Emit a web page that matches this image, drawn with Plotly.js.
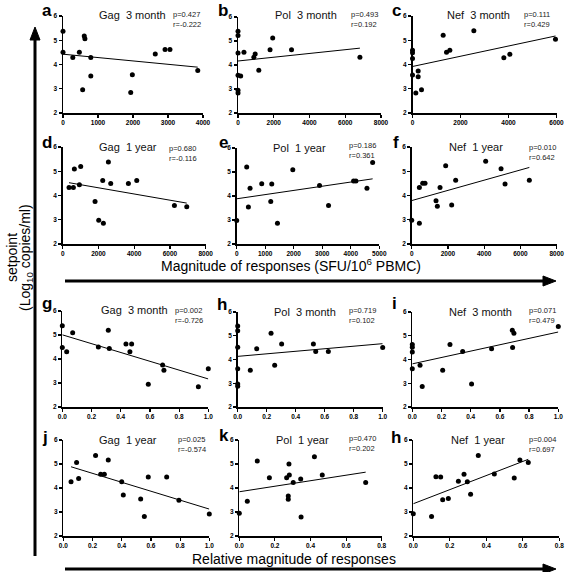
<!DOCTYPE html>
<html><head><meta charset="utf-8">
<script src="https://cdn.plot.ly/plotly-3.0.1.min.js"></script>
<style>html,body{margin:0;padding:0;background:#fff}</style>
</head><body><div id="chart" style="width:565px;height:572px"></div>
<script>
// ---------- data ----------
const gagM3AbsX = [0,0,280,467,607,626,794,794,561,1935,1981,2636,2916,3056,3850];
const gagM3AbsY = [5.37,4.50,4.29,4.50,5.18,5.06,4.29,3.53,2.96,2.85,3.58,4.43,4.62,4.62,3.75];
const polM3AbsX = [0,0,0,0,0,0,150,333,887,961,1164,1793,1941,2994,6820];
const polM3AbsY = [5.41,5.23,4.50,3.57,2.95,2.83,3.54,4.53,4.32,4.46,3.78,4.64,5.12,4.64,4.32];
const nefM3AbsX = [0,0,0,0,236,236,139,375,1278,1417,1556,2556,3806,4056,5958];
const nefM3AbsY = [4.59,4.48,4.25,3.57,3.73,3.49,2.82,2.96,5.21,4.51,4.59,5.39,4.28,4.42,5.04];
const gagY1AbsX = [354,597,653,933,1007,1810,2015,2276,2239,2556,2687,3675,4142,6250,6940];
const gagY1AbsY = [4.33,4.33,5.09,4.44,5.20,3.75,2.98,2.86,4.62,5.38,4.50,4.50,4.62,3.59,3.54];
const polY1AbsX = [0,351,410,468,878,1194,1230,1429,1967,2904,3220,4098,4180,4567,4766];
const polY1AbsY = [2.98,5.21,3.54,4.32,4.51,3.77,4.50,2.86,5.09,4.44,3.60,4.62,4.62,4.32,5.40];
const nefY1AbsX = [0,423,423,607,735,1342,1415,1563,1875,2206,2426,4081,4930,5150,6490];
const nefY1AbsY = [2.98,2.86,4.33,4.51,4.51,3.78,3.56,4.33,5.23,3.61,4.63,5.41,5.10,4.47,4.63];
const gagM3RelX = [0,0,0.03,0.071,0.247,0.315,0.322,0.436,0.475,0.463,0.589,0.687,0.696,0.932,1.0];
const gagM3RelY = [5.39,4.48,4.30,5.09,4.50,5.20,4.44,4.62,4.62,4.30,2.95,3.75,3.53,2.84,3.59];
const polM3RelX = [0,0,0,0,0,0,0.087,0.131,0.230,0.255,0.303,0.522,0.538,0.625,1.0];
const polM3RelY = [5.41,5.21,4.52,3.61,2.97,2.87,3.55,4.45,5.11,3.76,4.65,4.65,4.34,4.34,4.51];
const nefM3RelX = [0,0,0,0,0.053,0.068,0.208,0.258,0.345,0.406,0.543,0.687,0.685,0.696,1.0];
const nefM3RelY = [4.63,4.52,4.32,3.61,3.76,2.86,3.55,4.63,4.34,2.97,4.45,4.51,5.23,5.11,5.39];
const gagY1RelX = [0.053,0.091,0.105,0.221,0.256,0.281,0.308,0.400,0.411,0.530,0.555,0.582,0.708,0.792,1.0];
const gagY1RelY = [4.26,5.06,4.40,5.35,4.57,4.57,5.17,4.26,3.71,3.54,2.81,4.46,4.46,3.49,2.92];
const polY1RelX = [0,0.045,0.101,0.169,0.266,0.279,0.281,0.275,0.275,0.303,0.345,0.347,0.422,0.466,0.710];
const polY1RelY = [2.95,3.45,5.12,4.43,4.43,5.00,4.54,3.67,3.53,4.23,4.37,2.79,5.30,4.54,4.23];
const nefY1RelX = [0,0.100,0.124,0.150,0.161,0.192,0.247,0.278,0.296,0.314,0.356,0.444,0.553,0.584,0.630];
const nefY1RelY = [2.93,2.81,4.47,4.46,3.51,3.56,4.28,4.57,4.26,3.74,5.35,4.58,4.42,5.17,5.06];

const panelTitles = ['Gag  3 month','Pol  3 month','Nef  3 month','Gag  1 year','Pol  1 year','Nef  1 year',
                     'Gag  3 month','Pol  3 month','Nef  3 month','Gag  1 year','Pol  1 year','Nef  1 year'];
const panelLetters = ['a','b','c','d','e','f','g','h','i','j','k','h'];
const pValues = ['0.427','0.493','0.111','0.680','0.186','0.010','0.002','0.719','0.071','0.025','0.470','0.004'];
const rValues = ['-0.222','0.192','0.429','-0.116','0.361','0.642','-0.726','0.102','0.479','-0.574','0.202','0.697'];

const ticks4000 = [0,1000,2000,3000,4000];
const ticks8000 = [0,2000,4000,6000,8000];
const ticks6000 = [0,2000,4000,6000];
const ticks5000 = [0,1000,2000,3000,4000,5000];
const ticksRel10 = [0,0.2,0.4,0.6,0.8,1.0];
const ticksRel08 = [0,0.2,0.4,0.6,0.8];
const yTicks = [2,3,4,5,6];

const absTitle = 'Magnitude of responses (SFU/10<sup>6</sup> PBMC)';
const relTitle = 'Relative magnitude of responses';
const yTitle1 = 'setpoint';
const yTitle2 = '(Log<sub>10</sub> copies/ml)';

// ---------- layout helpers ----------
const W = 565, H = 572;
const FONT = 'Liberation Sans, Arial, sans-serif';
const fx = p => p / W;
const fy = p => 1 - p / H;

const series = [
  [gagM3AbsX,gagM3AbsY],[polM3AbsX,polM3AbsY],[nefM3AbsX,nefM3AbsY],
  [gagY1AbsX,gagY1AbsY],[polY1AbsX,polY1AbsY],[nefY1AbsX,nefY1AbsY],
  [gagM3RelX,gagM3RelY],[polM3RelX,polM3RelY],[nefM3RelX,nefM3RelY],
  [gagY1RelX,gagY1RelY],[polY1RelX,polY1RelY],[nefY1RelX,nefY1RelY]
];
const xTicksPer = [ticks4000,ticks8000,ticks6000,ticks8000,ticks5000,ticks8000,
                   ticksRel10,ticksRel10,ticksRel10,ticksRel10,ticksRel08,ticksRel08];
// plot boxes in pixels: left, right, top(y=6), bottom(y=2)
const boxes = [
  [63,203,16,113],[238,381,17,113],[412.5,556.5,16,113],
  [62.7,205.7,147,244],[236.7,379.3,148,244],[411.7,556.7,147,244],
  [62.3,208.3,311,407],[237.7,382.7,312,407],[412.3,558.3,312,407],
  [63.3,209.3,440,536],[239.3,381.7,440,536],[413.3,559.3,440,536]
];
const titlePos = [[132,15],[306,15],[478,15],[128,147],[299,148],[476,147],
                  [134,310],[305,312],[480,312],[128,440],[302,440],[478,440]];
const statPos = [[171,19],[349,19],[522,19],[167,153],[347,151],[527,152],
                 [173,316],[347,316],[527,315],[176,444],[347,443],[527,444]];
const letterPos = [[47,10],[223,10],[396,10],[47,142],[223,142],[396,142],
                   [47,303],[222,304],[394,303],[45,437],[224,436],[396,437]];

function linfit(x, y) {
  const n = x.length;
  let sx=0, sy=0, sxx=0, sxy=0;
  for (let i=0;i<n;i++){ sx+=x[i]; sy+=y[i]; sxx+=x[i]*x[i]; sxy+=x[i]*y[i]; }
  const b = (n*sxy - sx*sy)/(n*sxx - sx*sx);
  const a = (sy - b*sx)/n;
  return [a,b];
}

const traces = [];
const layout = {
  width: W, height: H,
  margin: {l:0,r:0,t:0,b:0},
  paper_bgcolor: '#fff', plot_bgcolor: 'rgba(0,0,0,0)',
  showlegend: false,
  font: {family: FONT, color: '#000'},
  annotations: [], shapes: []
};

series.forEach((s, i) => {
  const k = i === 0 ? '' : String(i+1);
  const xa = 'x' + k, ya = 'y' + k;
  traces.push({
    x: s[0], y: s[1], xaxis: xa, yaxis: ya, type: 'scatter', mode: 'markers',
    marker: {color: '#000', size: 5}, cliponaxis: false, hoverinfo: 'skip'
  });
  const [a, b] = linfit(s[0], s[1]);
  const xmin = Math.min(...s[0]), xmax = Math.max(...s[0]);
  traces.push({
    x: [xmin, xmax], y: [a + b*xmin, a + b*xmax], xaxis: xa, yaxis: ya,
    type: 'scatter', mode: 'lines', line: {color: '#000', width: 1}, cliponaxis: false, hoverinfo: 'skip'
  });
  const bx = boxes[i];
  const tv = xTicksPer[i];
  const isRel = i >= 6;
  layout['xaxis' + k] = {
    domain: [fx(bx[0]), fx(bx[1])], anchor: ya,
    range: [0, tv[tv.length-1]], tickvals: tv, tickformat: isRel ? '.1f' : 'd',
    showgrid: false, zeroline: false, showline: true, linecolor: '#000', linewidth: 1.5,
    ticks: 'outside', ticklen: 3, tickwidth: 1.2, tickcolor: '#000',
    tickfont: {family: FONT, size: 6.5, weight: 'bold', color: '#000'}, fixedrange: true
  };
  layout['yaxis' + k] = {
    domain: [fy(bx[3]), fy(bx[2])], anchor: xa,
    range: [2, 6], tickvals: yTicks,
    showgrid: false, zeroline: false, showline: true, linecolor: '#000', linewidth: 1.5,
    ticks: 'outside', ticklen: 3, tickwidth: 1.2, tickcolor: '#000',
    tickfont: {family: FONT, size: 6.5, weight: 'bold', color: '#000'}, fixedrange: true
  };
  layout.annotations.push({
    xref: 'paper', yref: 'paper', x: fx(titlePos[i][0]), y: fy(titlePos[i][1]),
    xanchor: 'center', yanchor: 'middle', showarrow: false,
    text: panelTitles[i].replace('  ', '\u00a0\u00a0'), font: {family: FONT, size: 11, color: '#111'}
  });
  layout.annotations.push({
    xref: 'paper', yref: 'paper', x: fx(statPos[i][0]), y: fy(statPos[i][1]),
    xanchor: 'left', yanchor: 'middle', align: 'left', showarrow: false,
    text: 'p=' + pValues[i] + '<br>r=' + rValues[i], font: {family: FONT, size: 7.5, color: '#222'}
  });
  layout.annotations.push({
    xref: 'paper', yref: 'paper', x: fx(letterPos[i][0]), y: fy(letterPos[i][1]),
    xanchor: 'center', yanchor: 'middle', showarrow: false,
    text: '<b>' + panelLetters[i] + '</b>', font: {family: FONT, size: 17, color: '#000'}
  });
});

// axis titles
layout.annotations.push({xref:'paper',yref:'paper',x:fx(291),y:fy(265),xanchor:'center',yanchor:'middle',
  showarrow:false,text:absTitle,font:{family:FONT,size:14,color:'#000'}});
layout.annotations.push({xref:'paper',yref:'paper',x:fx(294),y:fy(559),xanchor:'center',yanchor:'middle',
  showarrow:false,text:relTitle,font:{family:FONT,size:14,color:'#000'}});
layout.annotations.push({xref:'paper',yref:'paper',x:fx(12),y:fy(258),xanchor:'center',yanchor:'middle',
  showarrow:false,textangle:-90,text:yTitle1,font:{family:FONT,size:14,color:'#000'}});
layout.annotations.push({xref:'paper',yref:'paper',x:fx(26),y:fy(258),xanchor:'center',yanchor:'middle',
  showarrow:false,textangle:-90,text:yTitle2,font:{family:FONT,size:14,color:'#000'}});

// arrows drawn as shapes (line + filled head)
function hArrow(y, x0, x1) {
  layout.shapes.push({type:'line', xref:'paper', yref:'paper', x0:fx(x0), x1:fx(x1-10), y0:fy(y), y1:fy(y),
    line:{color:'#000', width:3}});
  layout.shapes.push({type:'path', xref:'paper', yref:'paper',
    path:`M${fx(x1-13)},${fy(y-5)} L${fx(x1)},${fy(y)} L${fx(x1-13)},${fy(y+5)} Z`,
    fillcolor:'#000', line:{color:'#000', width:1}});
}
function vArrow(x, y0, y1) {
  layout.shapes.push({type:'line', xref:'paper', yref:'paper', x0:fx(x), x1:fx(x), y0:fy(y0), y1:fy(y1+10),
    line:{color:'#000', width:3}});
  layout.shapes.push({type:'path', xref:'paper', yref:'paper',
    path:`M${fx(x-5)},${fy(y1+13)} L${fx(x)},${fy(y1)} L${fx(x+5)},${fy(y1+13)} Z`,
    fillcolor:'#000', line:{color:'#000', width:1}});
}
hArrow(281, 65, 556);
hArrow(569, 65, 556);
vArrow(35, 556, 27);

Plotly.newPlot('chart', traces, layout, {staticPlot: true, displayModeBar: false});
</script>
</body></html>
